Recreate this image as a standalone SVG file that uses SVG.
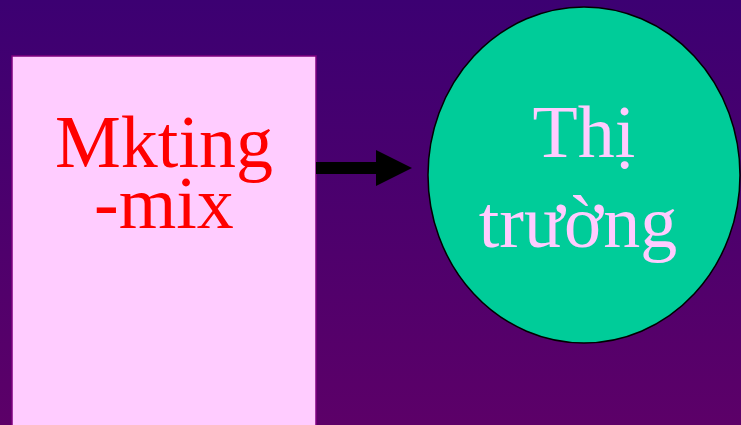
<svg xmlns="http://www.w3.org/2000/svg" width="741" height="425" viewBox="0 0 741 425">
<defs>
<linearGradient id="bg" x1="0" y1="0" x2="0" y2="1">
<stop offset="0" stop-color="#3c0072"/>
<stop offset="1" stop-color="#5c0068"/>
</linearGradient>
<style>
.t{font-family:"Liberation Serif","DejaVu Serif",serif;text-anchor:middle}
</style>
</defs>
<rect x="0" y="0" width="741" height="425" fill="url(#bg)"/>
<g id="mix">
<rect x="12" y="56" width="304" height="380" fill="#ffccff" stroke="#800080" stroke-width="1.5"/>
<text class="t" x="164" y="167" font-size="74" fill="#ff0000">Mkting</text>
<text class="t" x="164" y="228" font-size="74" fill="#ff0000">-mix</text>
</g>
<g id="market">
<ellipse cx="584" cy="175" rx="156" ry="168" fill="#00cc99" stroke="#000" stroke-width="1.5"/>
<text class="t" x="584" y="157" font-size="74" fill="#ffccff">Thị</text>
<text class="t" x="578" y="247" font-size="74" fill="#ffccff">trường</text>
</g>
<g id="connectors">
<polygon points="316,162 376,162 376,150 412,168 376,186 376,174 316,174" fill="#000"/>
</g>
</svg>
